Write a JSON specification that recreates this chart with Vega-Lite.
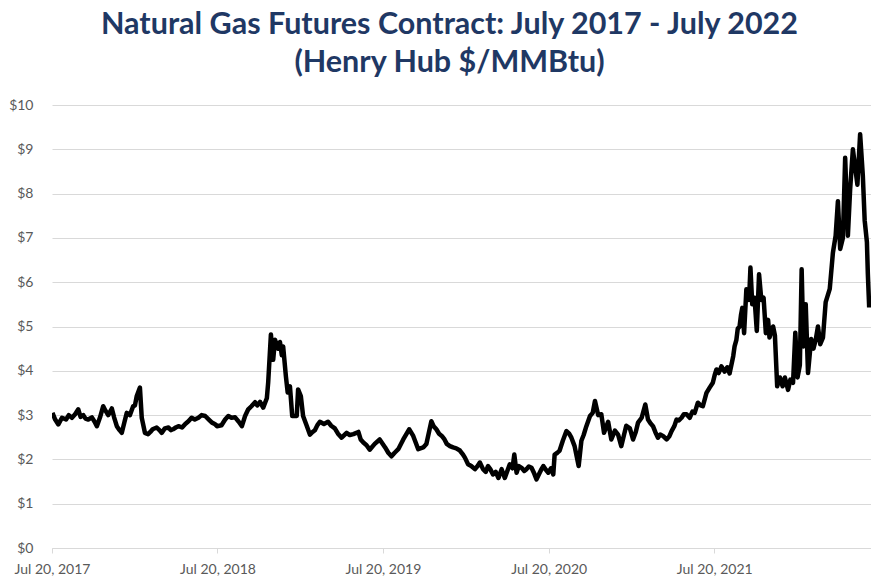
{
  "$schema": "https://vega.github.io/schema/vega-lite/v6.json",
  "width": 819,
  "height": 443,
  "autosize": {"type": "none"},
  "padding": {"left": 52, "top": 105, "right": 0, "bottom": 31},
  "background": "white",
  "config": {"view": {"stroke": null}},
  "title": {
    "text": ["Natural Gas Futures Contract: July 2017 - July 2022", "(Henry Hub $/MMBtu)"],
    "font": "Lato",
    "fontWeight": "bold",
    "fontSize": 30.5,
    "color": "#1F3864",
    "lineHeight": 38,
    "anchor": "middle",
    "frame": "group",
    "dx": -12,
    "offset": 20
  },
  "data": {
    "values": [
      {"date": "2017-07-21", "price": 3.05},
      {"date": "2017-07-27", "price": 2.9},
      {"date": "2017-08-03", "price": 2.79},
      {"date": "2017-08-11", "price": 2.94},
      {"date": "2017-08-20", "price": 2.9},
      {"date": "2017-08-26", "price": 3.0},
      {"date": "2017-09-02", "price": 2.94},
      {"date": "2017-09-09", "price": 3.02},
      {"date": "2017-09-16", "price": 3.13},
      {"date": "2017-09-21", "price": 2.96},
      {"date": "2017-09-27", "price": 3.0},
      {"date": "2017-10-02", "price": 2.92},
      {"date": "2017-10-08", "price": 2.9},
      {"date": "2017-10-16", "price": 2.95},
      {"date": "2017-10-22", "price": 2.85},
      {"date": "2017-10-27", "price": 2.75},
      {"date": "2017-11-03", "price": 2.95},
      {"date": "2017-11-10", "price": 3.2},
      {"date": "2017-11-15", "price": 3.1},
      {"date": "2017-11-21", "price": 3.0},
      {"date": "2017-11-29", "price": 3.15},
      {"date": "2017-12-04", "price": 2.95},
      {"date": "2017-12-10", "price": 2.75},
      {"date": "2017-12-16", "price": 2.66},
      {"date": "2017-12-21", "price": 2.6},
      {"date": "2017-12-27", "price": 2.85},
      {"date": "2018-01-01", "price": 3.05},
      {"date": "2018-01-08", "price": 3.0},
      {"date": "2018-01-15", "price": 3.2},
      {"date": "2018-01-19", "price": 3.22},
      {"date": "2018-01-23", "price": 3.43},
      {"date": "2018-01-30", "price": 3.62},
      {"date": "2018-02-03", "price": 2.94},
      {"date": "2018-02-10", "price": 2.6},
      {"date": "2018-02-17", "price": 2.57},
      {"date": "2018-02-22", "price": 2.62},
      {"date": "2018-02-27", "price": 2.68},
      {"date": "2018-03-08", "price": 2.72},
      {"date": "2018-03-14", "price": 2.66},
      {"date": "2018-03-19", "price": 2.6},
      {"date": "2018-03-26", "price": 2.7},
      {"date": "2018-04-03", "price": 2.72},
      {"date": "2018-04-08", "price": 2.66},
      {"date": "2018-04-13", "price": 2.68},
      {"date": "2018-04-19", "price": 2.72},
      {"date": "2018-04-25", "price": 2.75},
      {"date": "2018-05-03", "price": 2.72},
      {"date": "2018-05-10", "price": 2.8},
      {"date": "2018-05-17", "price": 2.86},
      {"date": "2018-05-24", "price": 2.94},
      {"date": "2018-05-31", "price": 2.9},
      {"date": "2018-06-08", "price": 2.94},
      {"date": "2018-06-15", "price": 3.0},
      {"date": "2018-06-23", "price": 2.98},
      {"date": "2018-07-01", "price": 2.9},
      {"date": "2018-07-08", "price": 2.83},
      {"date": "2018-07-14", "price": 2.8},
      {"date": "2018-07-19", "price": 2.75},
      {"date": "2018-07-29", "price": 2.77},
      {"date": "2018-08-06", "price": 2.9},
      {"date": "2018-08-13", "price": 2.98},
      {"date": "2018-08-20", "price": 2.94},
      {"date": "2018-08-28", "price": 2.95},
      {"date": "2018-09-05", "price": 2.85},
      {"date": "2018-09-12", "price": 2.75},
      {"date": "2018-09-19", "price": 2.98},
      {"date": "2018-09-26", "price": 3.13},
      {"date": "2018-10-03", "price": 3.2},
      {"date": "2018-10-11", "price": 3.29},
      {"date": "2018-10-16", "price": 3.22},
      {"date": "2018-10-22", "price": 3.3},
      {"date": "2018-10-29", "price": 3.17},
      {"date": "2018-11-06", "price": 3.38},
      {"date": "2018-11-09", "price": 3.74},
      {"date": "2018-11-15", "price": 4.82},
      {"date": "2018-11-20", "price": 4.25},
      {"date": "2018-11-24", "price": 4.7},
      {"date": "2018-12-01", "price": 4.5},
      {"date": "2018-12-05", "price": 4.65},
      {"date": "2018-12-09", "price": 4.35},
      {"date": "2018-12-12", "price": 4.55},
      {"date": "2018-12-18", "price": 3.88},
      {"date": "2018-12-22", "price": 3.51},
      {"date": "2018-12-27", "price": 3.65},
      {"date": "2019-01-01", "price": 2.98},
      {"date": "2019-01-11", "price": 2.98},
      {"date": "2019-01-14", "price": 3.58},
      {"date": "2019-01-20", "price": 3.43},
      {"date": "2019-01-25", "price": 2.98},
      {"date": "2019-02-02", "price": 2.76},
      {"date": "2019-02-09", "price": 2.56},
      {"date": "2019-02-15", "price": 2.62},
      {"date": "2019-02-20", "price": 2.66},
      {"date": "2019-02-26", "price": 2.78},
      {"date": "2019-03-03", "price": 2.85},
      {"date": "2019-03-12", "price": 2.8},
      {"date": "2019-03-21", "price": 2.85},
      {"date": "2019-03-28", "price": 2.76},
      {"date": "2019-04-05", "price": 2.7},
      {"date": "2019-04-12", "price": 2.58},
      {"date": "2019-04-20", "price": 2.49},
      {"date": "2019-05-01", "price": 2.6},
      {"date": "2019-05-08", "price": 2.55},
      {"date": "2019-05-16", "price": 2.57},
      {"date": "2019-05-27", "price": 2.62},
      {"date": "2019-06-01", "price": 2.45},
      {"date": "2019-06-07", "price": 2.38},
      {"date": "2019-06-14", "price": 2.32},
      {"date": "2019-06-21", "price": 2.22},
      {"date": "2019-07-02", "price": 2.35},
      {"date": "2019-07-13", "price": 2.45},
      {"date": "2019-07-25", "price": 2.27},
      {"date": "2019-08-01", "price": 2.15},
      {"date": "2019-08-08", "price": 2.07},
      {"date": "2019-08-15", "price": 2.15},
      {"date": "2019-08-23", "price": 2.23},
      {"date": "2019-09-03", "price": 2.45},
      {"date": "2019-09-16", "price": 2.68},
      {"date": "2019-09-25", "price": 2.53},
      {"date": "2019-10-06", "price": 2.23},
      {"date": "2019-10-17", "price": 2.27},
      {"date": "2019-10-24", "price": 2.35},
      {"date": "2019-11-04", "price": 2.86},
      {"date": "2019-11-09", "price": 2.75},
      {"date": "2019-11-15", "price": 2.68},
      {"date": "2019-11-21", "price": 2.58},
      {"date": "2019-11-27", "price": 2.53},
      {"date": "2019-12-03", "price": 2.45},
      {"date": "2019-12-08", "price": 2.35},
      {"date": "2019-12-15", "price": 2.3},
      {"date": "2019-12-22", "price": 2.27},
      {"date": "2019-12-29", "price": 2.25},
      {"date": "2020-01-06", "price": 2.2},
      {"date": "2020-01-12", "price": 2.12},
      {"date": "2020-01-17", "price": 2.04},
      {"date": "2020-01-24", "price": 1.89},
      {"date": "2020-01-31", "price": 1.85},
      {"date": "2020-02-08", "price": 1.78},
      {"date": "2020-02-14", "price": 1.85},
      {"date": "2020-02-19", "price": 1.93},
      {"date": "2020-02-26", "price": 1.78},
      {"date": "2020-03-03", "price": 1.72},
      {"date": "2020-03-08", "price": 1.85},
      {"date": "2020-03-13", "price": 1.78},
      {"date": "2020-03-19", "price": 1.66},
      {"date": "2020-03-25", "price": 1.72},
      {"date": "2020-03-31", "price": 1.58},
      {"date": "2020-04-07", "price": 1.78},
      {"date": "2020-04-14", "price": 1.58},
      {"date": "2020-04-20", "price": 1.75},
      {"date": "2020-04-25", "price": 1.89},
      {"date": "2020-05-01", "price": 1.8},
      {"date": "2020-05-05", "price": 2.11},
      {"date": "2020-05-10", "price": 1.7},
      {"date": "2020-05-15", "price": 1.85},
      {"date": "2020-05-21", "price": 1.81},
      {"date": "2020-05-27", "price": 1.74},
      {"date": "2020-06-01", "price": 1.78},
      {"date": "2020-06-06", "price": 1.84},
      {"date": "2020-06-12", "price": 1.81},
      {"date": "2020-06-18", "price": 1.68},
      {"date": "2020-06-23", "price": 1.55},
      {"date": "2020-06-30", "price": 1.7},
      {"date": "2020-07-04", "price": 1.78},
      {"date": "2020-07-08", "price": 1.85},
      {"date": "2020-07-14", "price": 1.76},
      {"date": "2020-07-19", "price": 1.7},
      {"date": "2020-07-25", "price": 1.8},
      {"date": "2020-07-30", "price": 1.66},
      {"date": "2020-08-02", "price": 2.11},
      {"date": "2020-08-08", "price": 2.15},
      {"date": "2020-08-13", "price": 2.2},
      {"date": "2020-08-20", "price": 2.42},
      {"date": "2020-08-28", "price": 2.64},
      {"date": "2020-09-03", "price": 2.58},
      {"date": "2020-09-08", "price": 2.49},
      {"date": "2020-09-15", "price": 2.3},
      {"date": "2020-09-24", "price": 1.85},
      {"date": "2020-09-30", "price": 2.42},
      {"date": "2020-10-05", "price": 2.55},
      {"date": "2020-10-11", "price": 2.75},
      {"date": "2020-10-19", "price": 2.98},
      {"date": "2020-10-25", "price": 3.05},
      {"date": "2020-10-30", "price": 3.32},
      {"date": "2020-11-06", "price": 3.0},
      {"date": "2020-11-13", "price": 3.02},
      {"date": "2020-11-19", "price": 2.6},
      {"date": "2020-11-28", "price": 2.85},
      {"date": "2020-12-05", "price": 2.45},
      {"date": "2020-12-13", "price": 2.65},
      {"date": "2020-12-20", "price": 2.56},
      {"date": "2020-12-27", "price": 2.3},
      {"date": "2021-01-02", "price": 2.55},
      {"date": "2021-01-07", "price": 2.76},
      {"date": "2021-01-15", "price": 2.7},
      {"date": "2021-01-22", "price": 2.45},
      {"date": "2021-01-28", "price": 2.62},
      {"date": "2021-02-02", "price": 2.83},
      {"date": "2021-02-10", "price": 2.94},
      {"date": "2021-02-18", "price": 3.24},
      {"date": "2021-02-24", "price": 2.9},
      {"date": "2021-03-01", "price": 2.82},
      {"date": "2021-03-07", "price": 2.75},
      {"date": "2021-03-12", "price": 2.62},
      {"date": "2021-03-18", "price": 2.49},
      {"date": "2021-03-23", "price": 2.56},
      {"date": "2021-03-29", "price": 2.53},
      {"date": "2021-04-06", "price": 2.45},
      {"date": "2021-04-12", "price": 2.52},
      {"date": "2021-04-17", "price": 2.64},
      {"date": "2021-04-23", "price": 2.75},
      {"date": "2021-04-28", "price": 2.9},
      {"date": "2021-05-03", "price": 2.88},
      {"date": "2021-05-09", "price": 2.94},
      {"date": "2021-05-14", "price": 3.02},
      {"date": "2021-05-20", "price": 3.02},
      {"date": "2021-05-27", "price": 2.94},
      {"date": "2021-06-02", "price": 3.08},
      {"date": "2021-06-07", "price": 3.05},
      {"date": "2021-06-14", "price": 3.28},
      {"date": "2021-06-20", "price": 3.22},
      {"date": "2021-06-25", "price": 3.2},
      {"date": "2021-07-03", "price": 3.5},
      {"date": "2021-07-10", "price": 3.62},
      {"date": "2021-07-17", "price": 3.73},
      {"date": "2021-07-21", "price": 3.9},
      {"date": "2021-07-25", "price": 4.03},
      {"date": "2021-07-30", "price": 3.95},
      {"date": "2021-08-05", "price": 4.1},
      {"date": "2021-08-12", "price": 3.98},
      {"date": "2021-08-18", "price": 4.08},
      {"date": "2021-08-23", "price": 3.94},
      {"date": "2021-08-31", "price": 4.33},
      {"date": "2021-09-03", "price": 4.55},
      {"date": "2021-09-07", "price": 4.7},
      {"date": "2021-09-10", "price": 4.95},
      {"date": "2021-09-14", "price": 5.0},
      {"date": "2021-09-17", "price": 5.25},
      {"date": "2021-09-20", "price": 5.42},
      {"date": "2021-09-24", "price": 4.85},
      {"date": "2021-09-29", "price": 5.84},
      {"date": "2021-10-05", "price": 5.6},
      {"date": "2021-10-08", "price": 6.33},
      {"date": "2021-10-12", "price": 5.5},
      {"date": "2021-10-17", "price": 5.65},
      {"date": "2021-10-22", "price": 4.9},
      {"date": "2021-10-27", "price": 6.18},
      {"date": "2021-11-01", "price": 5.6},
      {"date": "2021-11-06", "price": 5.65},
      {"date": "2021-11-11", "price": 4.85},
      {"date": "2021-11-16", "price": 5.15},
      {"date": "2021-11-19", "price": 4.75},
      {"date": "2021-11-27", "price": 5.0},
      {"date": "2021-12-01", "price": 4.8},
      {"date": "2021-12-06", "price": 3.65},
      {"date": "2021-12-12", "price": 3.85},
      {"date": "2021-12-18", "price": 3.65},
      {"date": "2021-12-23", "price": 3.85},
      {"date": "2021-12-30", "price": 3.57},
      {"date": "2022-01-04", "price": 3.8},
      {"date": "2022-01-10", "price": 3.73},
      {"date": "2022-01-15", "price": 4.86},
      {"date": "2022-01-20", "price": 3.85},
      {"date": "2022-01-25", "price": 4.13},
      {"date": "2022-01-29", "price": 6.29},
      {"date": "2022-02-02", "price": 4.55},
      {"date": "2022-02-07", "price": 5.5},
      {"date": "2022-02-12", "price": 3.95},
      {"date": "2022-02-19", "price": 4.72},
      {"date": "2022-02-24", "price": 4.5},
      {"date": "2022-03-01", "price": 4.7},
      {"date": "2022-03-06", "price": 5.0},
      {"date": "2022-03-11", "price": 4.6},
      {"date": "2022-03-17", "price": 4.75},
      {"date": "2022-03-23", "price": 5.55},
      {"date": "2022-04-01", "price": 5.85},
      {"date": "2022-04-08", "price": 6.67},
      {"date": "2022-04-14", "price": 7.05},
      {"date": "2022-04-19", "price": 7.83},
      {"date": "2022-04-24", "price": 6.75},
      {"date": "2022-04-30", "price": 7.0},
      {"date": "2022-05-05", "price": 8.81},
      {"date": "2022-05-11", "price": 7.05},
      {"date": "2022-05-16", "price": 8.1},
      {"date": "2022-05-22", "price": 9.0},
      {"date": "2022-05-27", "price": 8.6},
      {"date": "2022-06-01", "price": 8.2},
      {"date": "2022-06-07", "price": 9.34},
      {"date": "2022-06-13", "price": 8.4},
      {"date": "2022-06-17", "price": 7.4},
      {"date": "2022-06-22", "price": 6.9},
      {"date": "2022-06-24", "price": 6.2},
      {"date": "2022-06-27", "price": 5.43}
    ]
  },
  "mark": {"type": "line", "color": "black", "strokeWidth": 4.5, "strokeJoin": "round", "clip": true},
  "encoding": {
    "x": {
      "field": "date",
      "type": "temporal",
      "scale": {"domain": ["2017-07-20T00:00:00", "2022-07-01T00:00:00"]},
      "axis": {
        "title": null,
        "values": ["2017-07-20T00:00:00", "2018-07-20T00:00:00", "2019-07-20T00:00:00", "2020-07-20T00:00:00", "2021-07-20T00:00:00"],
        "format": "%b %d, %Y",
        "grid": false,
        "domainColor": "#D9D9D9",
        "domainWidth": 1,
        "tickColor": "#D9D9D9",
        "tickSize": 5,
        "labelFont": "Lato",
        "labelFontSize": 14,
        "labelColor": "#595959",
        "labelPadding": 9,
        "labelFlush": false,
        "labelOverlap": false
      }
    },
    "y": {
      "field": "price",
      "type": "quantitative",
      "scale": {"domain": [0, 10], "nice": false},
      "axis": {
        "title": null,
        "values": [0, 1, 2, 3, 4, 5, 6, 7, 8, 9, 10],
        "format": "$.0f",
        "domain": false,
        "ticks": false,
        "grid": true,
        "gridColor": "#D9D9D9",
        "gridWidth": 1,
        "labelFont": "Lato",
        "labelFontSize": 14,
        "labelColor": "#595959",
        "labelPadding": 19
      }
    }
  }
}
